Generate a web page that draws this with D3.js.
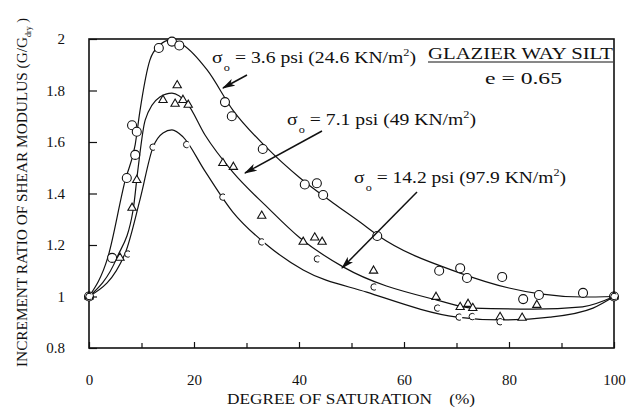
<!DOCTYPE html>
<html>
<head>
<meta charset="utf-8">
<script src="https://cdn.jsdelivr.net/npm/d3@7/dist/d3.min.js"></script>
<style>
  html, body { margin: 0; padding: 0; background: #fff; }
  svg { display: block; }
</style>
</head>
<body>
<svg id="chart" width="633" height="407" font-family="Liberation Serif"></svg>
<script>
// Degree of saturation (%) and shear-modulus increment ratio G/G_dry
// Measured points, sigma_o = 3.6 psi (open circles)
const satCircles = [0, 4.4, 7.2, 8.2, 8.8, 9.1, 13.3, 15.8, 17.2, 25.9, 27.2, 33.1, 41.1, 43.4, 44.6, 54.9, 66.7, 70.7, 72, 78.7, 82.7, 85.7, 94.1, 100];
const gCircles   = [1.0, 1.15, 1.46, 1.665, 1.55, 1.64, 1.965, 1.99, 1.975, 1.755, 1.70, 1.573, 1.435, 1.44, 1.394, 1.235, 1.10, 1.11, 1.072, 1.076, 0.99, 1.006, 1.014, 1.0];

// Measured points, sigma_o = 7.1 psi (open triangles)
const satTriangles = [0, 5.9, 8.2, 9.1, 14.1, 16.4, 16.8, 17.9, 18.9, 25.5, 27.5, 32.9, 40.8, 43.0, 44.4, 54.2, 66.1, 70.7, 72.2, 73.1, 78.3, 82.5, 85.3, 100];
const gTriangles   = [1.0, 1.15, 1.344, 1.452, 1.763, 1.748, 1.82, 1.763, 1.744, 1.518, 1.503, 1.313, 1.212, 1.229, 1.212, 1.10, 0.998, 0.959, 0.971, 0.955, 0.92, 0.917, 0.967, 1.0];

// Measured points, sigma_o = 14.2 psi (small broken circles)
const satBroken = [0, 7.4, 12.2, 18.6, 25.5, 32.9, 43.5, 54.3, 66.4, 70.5, 73.0, 78.3, 100];
const gBroken   = [1.0, 1.165, 1.58, 1.59, 1.386, 1.212, 1.146, 1.037, 0.955, 0.92, 0.922, 0.902, 1.0];

// Fitted trend curves through each set
const fitSat36 = [0, 3.6, 6.9, 8.8, 9.7, 11.6, 13.5, 15.4, 17.9, 22.5, 27.4, 33.9, 40.2, 46.5, 51.6, 54.9, 70.7, 80, 85.9, 94, 100];
const fitG36   = [1.0, 1.153, 1.452, 1.59, 1.72, 1.918, 1.977, 1.996, 1.977, 1.88, 1.724, 1.577, 1.46, 1.363, 1.289, 1.239, 1.091, 1.033, 1.01, 0.998, 1.0];

const fitSat71 = [0, 5.3, 8.4, 9.3, 10.7, 13.5, 15.8, 18.7, 22.1, 27.4, 33.9, 40.2, 48.4, 66.3, 73.1, 84.6, 94, 100];
const fitG71   = [1.0, 1.15, 1.336, 1.49, 1.685, 1.775, 1.79, 1.75, 1.627, 1.483, 1.348, 1.227, 1.115, 0.986, 0.955, 0.951, 0.96, 1.0];

const fitSat142 = [0, 6.9, 9.7, 12.2, 14.1, 15.8, 17.9, 22, 27.4, 33.9, 40.8, 52.9, 70.1, 78.3, 87.8, 96, 100];
const fitG142   = [1.0, 1.169, 1.375, 1.58, 1.635, 1.647, 1.62, 1.49, 1.328, 1.2, 1.103, 1.017, 0.92, 0.909, 0.92, 0.955, 1.0];

// Axis ticks
const xTicks = [0, 20, 40, 60, 80, 100];
const xMinorTicks = [10, 30, 50, 70, 90];
const yTicks = [0.8, 1, 1.2, 1.4, 1.6, 1.8, 2];
const yTickLabels = ["0.8", "1", "1.2", "1.4", "1.6", "1.8", "2"];

const ink = "#111";
const serif = "Liberation Serif";
const svg = d3.select("#chart");

const x = d3.scaleLinear().domain([0, 100]).range([89, 614]);
const y = d3.scaleLinear().domain([0.8, 2]).range([348, 39]);

// Frame
svg.append("rect")
  .attr("x", x(0)).attr("y", y(2))
  .attr("width", x(100) - x(0)).attr("height", y(0.8) - y(2))
  .attr("fill", "none").attr("stroke", ink).attr("stroke-width", 1.6);

// Axes with inward ticks
svg.append("g")
  .attr("transform", `translate(${x(0)},0)`)
  .call(d3.axisLeft(y).tickValues(yTicks).tickSize(-8).tickPadding(24)
    .tickFormat((d, i) => yTickLabels[i]));
svg.append("g")
  .attr("transform", `translate(0,${y(0.8)})`)
  .call(d3.axisBottom(x).tickValues(xTicks).tickSize(-6).tickPadding(26)
    .tickFormat(d => String(d)));
svg.append("g")
  .attr("transform", `translate(0,${y(0.8)})`)
  .call(d3.axisBottom(x).tickValues(xMinorTicks).tickSize(-5).tickFormat(""));

svg.selectAll(".domain").remove();
svg.selectAll("g").attr("font-family", serif);
svg.selectAll(".tick line").attr("stroke", ink).attr("stroke-width", 1.2);
svg.selectAll(".tick text")
  .attr("fill", ink)
  .attr("font-family", serif)
  .attr("font-size", 15);

// Axis titles
svg.append("text")
  .attr("x", 227).attr("y", 404)
  .attr("fill", ink).attr("font-family", serif).attr("font-size", 14)
  .attr("textLength", 248).attr("lengthAdjust", "spacingAndGlyphs")
  .attr("xml:space", "preserve")
  .text("DEGREE OF SATURATION    (%)");

const yTitle = svg.append("text")
  .attr("transform", "translate(27,367) rotate(-90)")
  .attr("fill", ink).attr("font-family", serif).attr("font-size", 14);
yTitle.append("tspan")
  .attr("textLength", 330).attr("lengthAdjust", "spacingAndGlyphs")
  .text("INCREMENT RATIO OF SHEAR MODULUS (G/G");
yTitle.append("tspan").attr("dy", 4).attr("font-size", 8).text("dry");
yTitle.append("tspan").attr("dy", -4).text(" )");

// Fitted curves
const fitLine = d3.line()
  .x(d => x(d[0])).y(d => y(d[1]))
  .curve(d3.curveMonotoneX);
[[fitSat36, fitG36], [fitSat71, fitG71], [fitSat142, fitG142]].forEach(([s, g]) => {
  svg.append("path")
    .datum(s.map((v, i) => [v, g[i]]))
    .attr("d", fitLine)
    .attr("fill", "none").attr("stroke", ink).attr("stroke-width", 1.2);
});

// Markers
svg.append("g").selectAll("circle")
  .data(satCircles.map((v, i) => [v, gCircles[i]]))
  .join("circle")
  .attr("cx", d => x(d[0])).attr("cy", d => y(d[1])).attr("r", 4.5)
  .attr("fill", "#fff").attr("stroke", ink).attr("stroke-width", 1.1);

const tri = d3.symbol().type(d3.symbolTriangle).size(30);
svg.append("g").selectAll("path")
  .data(satTriangles.map((v, i) => [v, gTriangles[i]]))
  .join("path")
  .attr("d", tri)
  .attr("transform", d => `translate(${x(d[0])},${y(d[1])})`)
  .attr("fill", "#fff").attr("stroke", ink).attr("stroke-width", 1.1);

svg.append("g").selectAll("circle")
  .data(satBroken.map((v, i) => [v, gBroken[i]]))
  .join("circle")
  .attr("cx", d => x(d[0])).attr("cy", d => y(d[1])).attr("r", 3.2)
  .attr("fill", "#fff").attr("stroke", ink).attr("stroke-width", 1)
  .attr("stroke-dasharray", "14 6").attr("stroke-dashoffset", -3);

// Annotations
function sigmaLabel(x0, yb, rest, width) {
  const g = svg.append("g");
  const t = g.append("text").attr("x", x0).attr("y", yb)
    .attr("fill", ink).attr("font-family", serif).attr("font-size", 16);
  t.append("tspan").text("σ");
  t.append("tspan").attr("dy", 8).attr("dx", 1).attr("font-size", 10).text("o");
  t.append("tspan").attr("dy", -8).text(" = " + rest + " KN/m");
  t.append("tspan").attr("dy", -7).attr("font-size", 10).text("2");
  t.append("tspan").attr("dy", 7).text(")");
  // stretch horizontally to the set width
  const w = t.node().getComputedTextLength();
  t.attr("x", 0);
  g.attr("transform", `translate(${x0},0) scale(${width / w},1)`);
}
sigmaLabel(212, 63, "3.6 psi (24.6", 203);
sigmaLabel(287, 125, "7.1 psi (49", 188);
sigmaLabel(354, 183, "14.2 psi (97.9", 211);

svg.append("text")
  .attr("x", 428).attr("y", 59)
  .attr("fill", ink).attr("font-family", serif).attr("font-size", 17)
  .attr("textLength", 185).attr("lengthAdjust", "spacingAndGlyphs")
  .text("GLAZIER WAY SILT");
svg.append("line")
  .attr("x1", 428).attr("x2", 613).attr("y1", 62).attr("y2", 62)
  .attr("stroke", ink).attr("stroke-width", 1);

svg.append("text")
  .attr("x", 485).attr("y", 84)
  .attr("fill", ink).attr("font-family", serif).attr("font-size", 16)
  .attr("textLength", 77).attr("lengthAdjust", "spacingAndGlyphs")
  .attr("xml:space", "preserve")
  .text("e = 0.65");

// Arrows pointing to each curve
const defs = svg.append("defs");
defs.append("marker")
  .attr("id", "head").attr("viewBox", "0 0 12 7")
  .attr("refX", 11).attr("refY", 3.5)
  .attr("markerWidth", 13).attr("markerHeight", 8)
  .attr("markerUnits", "userSpaceOnUse")
  .attr("orient", "auto")
  .append("path").attr("d", "M0,0 L12,3.5 L0,7 L3,3.5 Z").attr("fill", ink);

const arrows = [
  [247, 75, 223, 88],
  [322, 131, 245, 173],
  [417, 192, 342, 268]
];
svg.append("g").selectAll("line")
  .data(arrows)
  .join("line")
  .attr("x1", d => d[0]).attr("y1", d => d[1])
  .attr("x2", d => d[2]).attr("y2", d => d[3])
  .attr("stroke", ink).attr("stroke-width", 1.5)
  .attr("marker-end", "url(#head)");
</script>
</body>
</html>
